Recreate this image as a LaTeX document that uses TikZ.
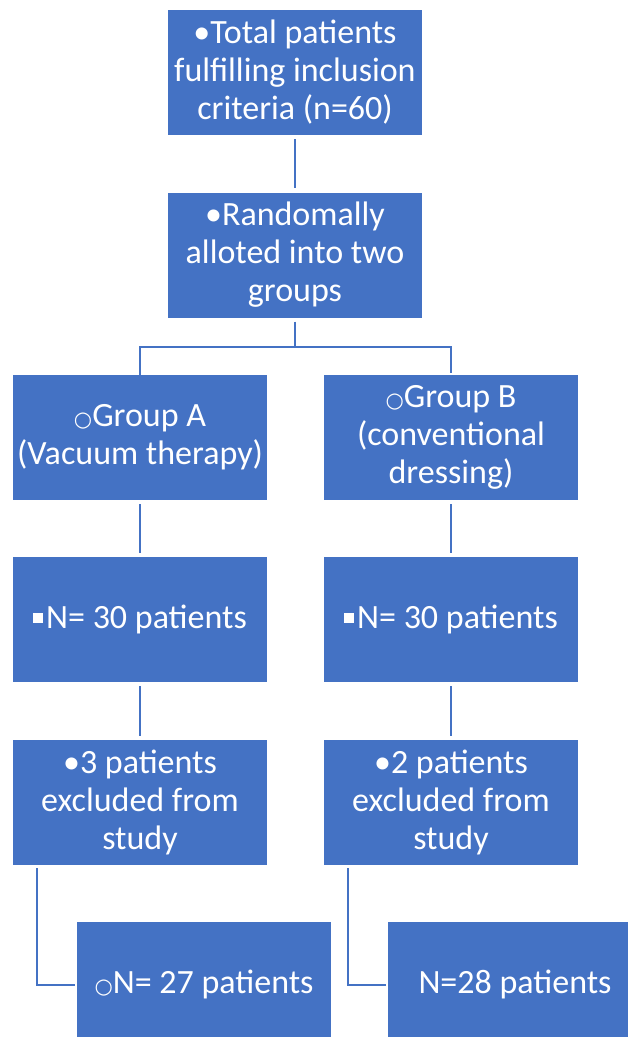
\documentclass[tikz,border=0pt]{standalone}
\usepackage{fontspec}
\setmainfont{Carlito}
\newfontfamily\symfont{DejaVu Sans}
\definecolor{boxblue}{HTML}{4472C4}
\newcommand{\bul}{•}
\newcommand{\circb}{{\symfont\fontsize{21}{21}\selectfont ○}}
\newcommand{\sqb}{\rule[6pt]{10pt}{10pt}\hspace{3pt}}
\tikzset{
  box/.style={rectangle, fill=boxblue, text=white, minimum width=254pt, minimum height=125pt,
    inner sep=0pt, align=center, font=\fontsize{34}{38}\selectfont},
  conn/.style={draw=boxblue, line width=2pt}
}
\begin{document}
\begin{tikzpicture}[x=1pt,y=-1pt]
\useasboundingbox (0,0) rectangle (628,1037);
\begin{scope}
\clip (0,0) rectangle (628,1037);
\node[box] (top) at (295,72.5) {\bul Total patients\\fulfilling inclusion\\criteria (n=60)};
\node[box] (rand) at (295,255) {\bul Randomally\\alloted into two\\groups};
\node[box] (ga) at (140,437.5) {\circb Group A\\(Vacuum therapy)};
\node[box] (gb) at (451,437.5) {\circb Group B\\(conventional\\dressing)};
\node[box] (na) at (140,619.5) {\sqb N= 30 patients};
\node[box] (nb) at (451,619.5) {\sqb N= 30 patients};
\node[box] (ea) at (140,802.5) {\bul 3 patients\\excluded from\\study};
\node[box] (eb) at (451,802.5) {\bul 2 patients\\excluded from\\study};
\node[box] (fa) at (204,984.5) {\circb N= 27 patients};
\node[box] (fb) at (515,984.5) {N=28 patients};
\end{scope}
\draw[conn, shorten <=4pt, shorten >=4pt] (top.south) -- (rand.north);
\coordinate (br) at (295,347);
\draw[conn, shorten <=4pt] (rand.south) -- (br);
\draw[conn, shorten >=2pt] (ga.north) -- (ga.north |- br) -- (gb.north |- br) -- (gb.north);
\draw[conn, shorten <=4pt, shorten >=4pt] (ga.south) -- (na.north);
\draw[conn, shorten <=4pt, shorten >=4pt] (gb.south) -- (nb.north);
\draw[conn, shorten <=4pt, shorten >=4pt] (na.south) -- (ea.north);
\draw[conn, shorten <=4pt, shorten >=4pt] (nb.south) -- (eb.north);
\coordinate (la) at ([xshift=24pt]ea.south west);
\coordinate (lb) at ([xshift=24pt]eb.south west);
\draw[conn, shorten <=3pt, shorten >=2pt] (la) -- (la |- fa.west) -- (fa.west);
\draw[conn, shorten <=3pt, shorten >=2pt] (lb) -- (lb |- fb.west) -- (fb.west);
\end{tikzpicture}
\end{document}
